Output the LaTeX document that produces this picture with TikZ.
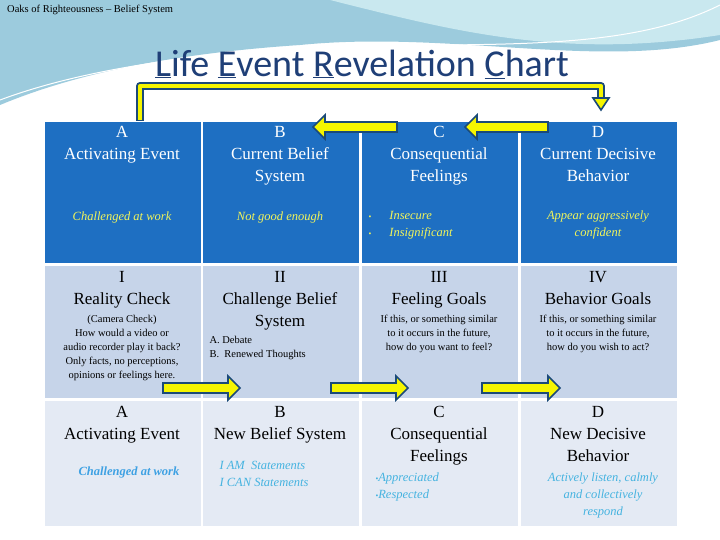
\documentclass[tikz,border=0pt]{standalone}
\usepackage{fontspec}
\setmainfont{Liberation Serif}
\newfontfamily\titlefont{Carlito}
\usetikzlibrary{arrows.meta}
\definecolor{hdr}{HTML}{1E6FC2}
\definecolor{midrow}{HTML}{C6D4E9}
\definecolor{lowrow}{HTML}{E4EAF4}
\definecolor{yel}{HTML}{F2F55A}
\definecolor{arrowfill}{HTML}{F5F500}
\definecolor{arrowedge}{HTML}{1B4A78}
\definecolor{cyanit}{HTML}{45B3E0}
\definecolor{ttl}{HTML}{1F3F77}
\definecolor{swoosh}{HTML}{9CCBDD}
\definecolor{swoosh2}{HTML}{C9E8EF}
\tikzset{
 cellbox/.style={draw=white,line width=2pt,anchor=north west,minimum width=158pt,inner sep=0},
 big/.style={align=center,font=\fontsize{17}{22}\selectfont},
 small/.style={align=center,font=\fontsize{10.5}{14}\selectfont},
 fatarrow/.style={draw=arrowedge,fill=arrowfill,line width=1.6pt,line join=miter}
}
\newcommand{\rarrow}[3]{\draw[fatarrow] (#1,#3-5)--(#2-12,#3-5)--(#2-12,#3-12)--(#2,#3)--(#2-12,#3+12)--(#2-12,#3+5)--(#1,#3+5)--cycle;}
\newcommand{\larrow}[3]{\draw[fatarrow] (#1,#3-5)--(#2+12,#3-5)--(#2+12,#3-12)--(#2,#3)--(#2+12,#3+12)--(#2+12,#3+5)--(#1,#3+5)--cycle;}
\newcommand{\bul}{{\upshape\fontsize{8}{8}\selectfont\textbullet}}
\begin{document}
\begin{tikzpicture}[x=1pt,y=-1pt]
\useasboundingbox (0,0) rectangle (720,540);
\fill[white] (0,0) rectangle (720,540);
% background swoosh
\fill[swoosh] (0,0) -- (720,0) -- (720,40) .. controls (600,70) and (450,30) .. (300,45) .. controls (150,55) and (60,80) .. (0,105) -- cycle;
\fill[swoosh2] (330,0) .. controls (450,30) and (560,60) .. (720,35) -- (720,0) -- cycle;
\draw[white,line width=1pt] (0,100) .. controls (120,55) and (300,45) .. (420,45) .. controls (560,45) and (650,40) .. (720,5);
\node[anchor=north west,inner sep=0,font=\fontsize{10.5}{11}\selectfont] (hdrtxt) at (7,5) {Oaks of Righteousness -- Belief System};
\node[font=\titlefont\fontsize{38}{40}\selectfont,text=ttl,inner sep=0] (title) at (362,64)
 {\underline{L}ife \underline{E}vent \underline{R}evelation \underline{C}hart};
% cells
\foreach \i/\x in {1/43,2/201,3/360,4/519}{
 \node[cellbox,fill=hdr,minimum height=143pt] (r1c\i) at (\x,120) {};
 \node[cellbox,fill=midrow,minimum height=134pt] (r2c\i) at (\x,264) {};
 \node[cellbox,fill=lowrow,minimum height=127pt] (r3c\i) at (\x,399) {};
}
% row 1
\begin{scope}[text=white]
\node[big,anchor=north] (t1a) at (122,123) {A\\Activating Event};
\node[big,anchor=north] (t1b) at (280,123) {B\\Current Belief\\System};
\node[big,anchor=north] (t1c) at (439,123) {C\\Consequential\\Feelings};
\node[big,anchor=north] (t1d) at (598,123) {D\\Current Decisive\\Behavior};
\end{scope}
\begin{scope}[text=yel,font=\itshape\fontsize{12.5}{17}\selectfont]
\node (y1a) at (122,217) {Challenged at work};
\node (y1b) at (280,217) {Not good enough};
\node[anchor=west,align=left] (y1c) at (365,225) {\bul\hspace{18pt}Insecure\\\bul\hspace{18pt}Insignificant};
\node[align=center] (y1d) at (598,225) {Appear aggressively\\confident};
\end{scope}
% row 2
\node[big,anchor=north] (t2a) at (122,268) {I\\Reality Check};
\node[small,anchor=north] (s2a) at (122,312) {(Camera Check)\\How would a video or\\audio recorder play it back?\\Only facts, no perceptions,\\opinions or feelings here.};
\node[big,anchor=north] (t2b) at (280,268) {II\\Challenge Belief\\System};
\node[anchor=north west,align=left,font=\fontsize{10.5}{14}\selectfont] (s2b) at (206,333) {A. Debate\\B.\ \ Renewed Thoughts};
\node[big,anchor=north] (t2c) at (439,268) {III\\Feeling Goals};
\node[small,anchor=north] (s2c) at (439,312) {If this, or something similar\\to it occurs in the future,\\how do you want to feel?};
\node[big,anchor=north] (t2d) at (598,268) {IV\\Behavior Goals};
\node[small,anchor=north] (s2d) at (598,312) {If this, or something similar\\to it occurs in the future,\\how do you wish to act?};
% row 3
\node[big,anchor=north] (t3a) at (122,403) {A\\Activating Event};
\node[big,anchor=north] (t3b) at (280,403) {B\\New Belief System};
\node[big,anchor=north] (t3c) at (439,403) {C\\Consequential\\Feelings};
\node[big,anchor=north] (t3d) at (598,403) {D\\New Decisive\\Behavior};
\begin{scope}[text=cyanit,font=\itshape\fontsize{12.5}{17}\selectfont]
\node[font=\bfseries\itshape\fontsize{12.5}{17}\selectfont,text=cyanit!90!blue] (c3a) at (129,472) {Challenged at work};
\node[anchor=west,align=left] (c3b) at (216,474) {I AM\ \ Statements\\I CAN Statements};
\node[anchor=west,align=left] (c3c) at (372,487) {\bul Appreciated\\\bul Respected};
\node[align=center] (c3d) at (603,495) {Actively listen, calmly\\and collectively\\respond};
\end{scope}
% arrows
\coordinate (loopS) at (140,121);
\coordinate (loopE) at (601,100);
\draw[arrowedge,line width=8pt,line join=round] (loopS) |- (601,86) -- (loopE);
\draw[arrowfill,line width=4pt,line join=round] (140,120) |- (601,86) -- (loopE);
\draw[fatarrow] (593,98)--(609,98)--(601,110)--cycle;
\larrow{397}{313}{127}
\larrow{548}{465}{127}
\rarrow{163}{240}{388}
\rarrow{331}{408}{388}
\rarrow{482}{560}{388}
\end{tikzpicture}
\end{document}
